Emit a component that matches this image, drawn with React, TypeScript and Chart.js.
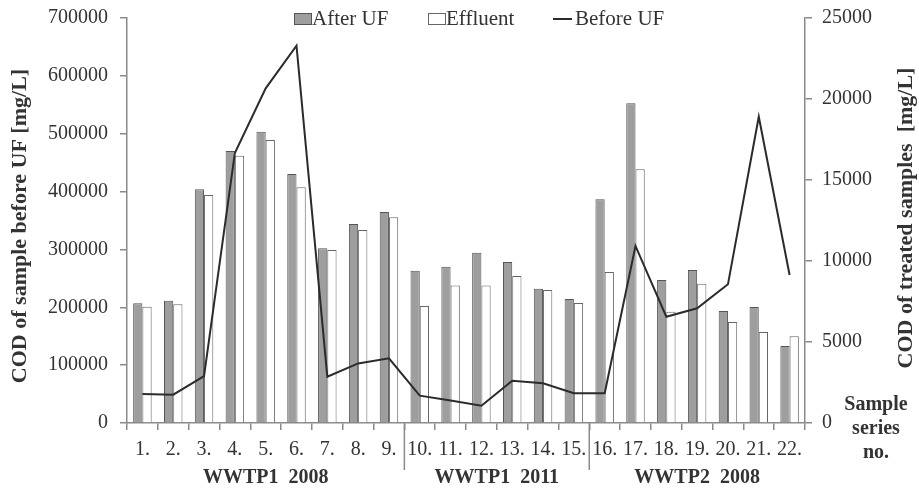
import React, { useEffect, useRef } from "react";
import { Chart, registerables } from "chart.js";

Chart.register(...registerables);

const categories = ["1.", "2.", "3.", "4.", "5.", "6.", "7.", "8.", "9.", "10.", "11.", "12.", "13.", "14.", "15.", "16.", "17.", "18.", "19.", "20.", "21.", "22."];
const afterUF = [7390, 7550, 14430, 16790, 17980, 15370, 10780, 12280, 13030, 9400, 9650, 10510, 9940, 8290, 7650, 13810, 19740, 8830, 9440, 6910, 7160, 4750];
const effluent = [7180, 7330, 14070, 16500, 17470, 14550, 10680, 11910, 12700, 7220, 8480, 8480, 9070, 8210, 7410, 9320, 15660, 6870, 8600, 6240, 5620, 5350];
const beforeUF = [50100, 48900, 81200, 466700, 578500, 652000, 80000, 103000, 111800, 47200, 39000, 29900, 73100, 68600, 51300, 51300, 306000, 183700, 198200, 239700, 529400, 255800];
const groups = [
  { label: "WWTP1  2008", from: 0, to: 8 },
  { label: "WWTP1  2011", from: 9, to: 14 },
  { label: "WWTP2  2008", from: 15, to: 21 },
];
const leftTitle = "COD of sample before UF [mg/L]";
const rightTitle = "COD of treated samples  [mg/L]";
const cornerLabel = ["Sample", "series", "no."];

const SERIF = "'Liberation Serif', 'Times New Roman', serif";
const AXIS = "#8a8a8a";
const TEXT = "#333333";

const decor = {
  id: "decor",
  afterDraw(chart: any) {
    const ctx = chart.ctx;
    const x = chart.scales.x;
    const area = chart.chartArea;
    ctx.save();
    ctx.strokeStyle = AXIS;
    ctx.lineWidth = 1.5;
    groups.slice(0, -1).forEach((g) => {
      const px = (x.getPixelForValue(g.to) + x.getPixelForValue(g.to + 1)) / 2;
      ctx.beginPath();
      ctx.moveTo(px, area.bottom);
      ctx.lineTo(px, 470);
      ctx.stroke();
    });
    ctx.fillStyle = TEXT;
    ctx.font = `bold 20px ${SERIF}`;
    ctx.textAlign = "center";
    ctx.textBaseline = "middle";
    groups.forEach((g) => {
      const cx = (x.getPixelForValue(g.from) + x.getPixelForValue(g.to)) / 2;
      ctx.fillText(g.label, cx, 478);
    });
    cornerLabel.forEach((t, i) => ctx.fillText(t, 876, 405 + i * 24));
    ctx.font = `bold 22px ${SERIF}`;
    ctx.save();
    ctx.translate(20, 226);
    ctx.rotate(-Math.PI / 2);
    ctx.fillText(leftTitle, 0, 0);
    ctx.restore();
    ctx.save();
    ctx.translate(906, 218);
    ctx.rotate(-Math.PI / 2);
    ctx.fillText(rightTitle, 0, 0);
    ctx.restore();
    ctx.font = `21px ${SERIF}`;
    ctx.textAlign = "left";
    ctx.lineWidth = 1;
    ctx.fillStyle = "#9e9e9e";
    ctx.strokeStyle = "#555555";
    ctx.fillRect(294.5, 13.5, 17, 11);
    ctx.strokeRect(294.5, 13.5, 17, 11);
    ctx.fillStyle = TEXT;
    ctx.fillText("After UF", 312, 19);
    ctx.fillStyle = "#ffffff";
    ctx.strokeStyle = "#666666";
    ctx.fillRect(428.5, 13.5, 17, 11);
    ctx.strokeRect(428.5, 13.5, 17, 11);
    ctx.fillStyle = TEXT;
    ctx.fillText("Effluent", 446, 19);
    ctx.strokeStyle = "#2b2b2b";
    ctx.lineWidth = 2;
    ctx.beginPath();
    ctx.moveTo(553, 19);
    ctx.lineTo(572, 19);
    ctx.stroke();
    ctx.fillText("Before UF", 575, 19);
    ctx.restore();
  },
};

const plain = (v: any) => String(v);
const fitY = (w: number) => (s: any) => {
  s.width = w;
  s.paddingTop = 0;
  s.paddingBottom = 0;
};

export default function App() {
  const ref = useRef<HTMLCanvasElement | null>(null);
  useEffect(() => {
    document.body.style.margin = "0";
    const chart = new Chart(ref.current as HTMLCanvasElement, {
      type: "bar",
      data: {
        labels: categories,
        datasets: [
          {
            type: "line",
            label: "Before UF",
            data: beforeUF,
            yAxisID: "y",
            borderColor: "#2b2b2b",
            borderWidth: 2,
            pointRadius: 0,
            tension: 0,
            order: 0,
          } as any,
          {
            type: "bar",
            label: "After UF",
            data: afterUF,
            yAxisID: "y1",
            backgroundColor: "#9e9e9e",
            borderColor: "#555555",
            borderWidth: 1,
            categoryPercentage: 0.6,
            barPercentage: 1,
            order: 1,
          },
          {
            type: "bar",
            label: "Effluent",
            data: effluent,
            yAxisID: "y1",
            backgroundColor: "#ffffff",
            borderColor: "#666666",
            borderWidth: 1,
            categoryPercentage: 0.6,
            barPercentage: 1,
            order: 1,
          },
        ],
      },
      options: {
        animation: false,
        responsive: false,
        maintainAspectRatio: false,
        layout: { padding: { top: 18, left: 0, right: 0, bottom: 0 } },
        plugins: { legend: { display: false }, tooltip: { enabled: false } },
        scales: {
          x: {
            offset: true,
            grid: { display: true, offset: true, drawOnChartArea: false, tickLength: 7, color: AXIS, lineWidth: 1.5 },
            border: { color: AXIS, width: 1.5 },
            ticks: { autoSkip: false, maxRotation: 0, padding: 8, color: TEXT, font: { family: SERIF, size: 20 } },
            afterFit: (s: any) => { s.height = 66; s.paddingLeft = 0; s.paddingRight = 0; },
          },
          y: {
            position: "left",
            min: 0,
            max: 700000,
            grid: { drawOnChartArea: false, tickLength: 7, color: AXIS, lineWidth: 1.5 },
            border: { color: AXIS, width: 1.5 },
            ticks: { stepSize: 100000, padding: 12, color: TEXT, font: { family: SERIF, size: 20 }, callback: plain },
            afterFit: fitY(127),
          },
          y1: {
            position: "right",
            min: 0,
            max: 25000,
            grid: { drawOnChartArea: false, tickLength: 7, color: AXIS, lineWidth: 1.5 },
            border: { color: AXIS, width: 1.5 },
            ticks: { stepSize: 5000, padding: 10, color: TEXT, font: { family: SERIF, size: 20 }, callback: plain },
            afterFit: fitY(114),
          },
        },
      },
      plugins: [decor],
    });
    return () => chart.destroy();
  }, []);
  return (
    <div style={{ width: 919, height: 489, position: "relative" }}>
      <canvas ref={ref} width={919} height={489} style={{ width: 919, height: 489, display: "block" }} />
    </div>
  );
}
